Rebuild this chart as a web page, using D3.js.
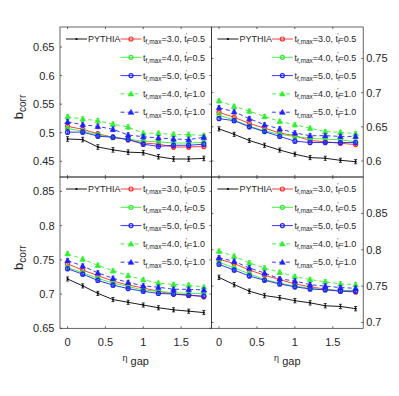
<!DOCTYPE html>
<html><head><meta charset="utf-8">
<script src="https://cdn.jsdelivr.net/npm/d3@7"></script>
<style>body{margin:0;background:#fff}svg{display:block;font-family:"Liberation Sans",Arial,sans-serif}</style>
</head><body><svg id="c" width="399" height="396"></svg>
<script>
// ---- data ----
const etaGap=[0,0.2,0.4,0.6,0.8,1.0,1.2,1.4,1.6,1.8];
const xTickVals=[0,0.5,1,1.5];
const xTickLabels=["0","0.5","1","1.5"];
const tfMax=["3.0","4.0","5.0","4.0","5.0"];
const tfPrime=["0.5","0.5","0.5","1.0","1.0"];

const tlPythia=[0.489,0.488,0.475,0.470,0.466,0.465,0.458,0.454,0.454,0.455];
const tlR30=[0.511,0.506,0.498,0.492,0.488,0.482,0.480,0.475,0.475,0.476];
const tlG40=[0.507,0.503,0.496,0.492,0.489,0.485,0.484,0.482,0.482,0.483];
const tlB50=[0.501,0.501,0.494,0.492,0.488,0.480,0.476,0.478,0.478,0.480];
const tlG40w=[0.528,0.524,0.521,0.515,0.510,0.499,0.499,0.497,0.497,0.495];
const tlB50w=[0.519,0.514,0.511,0.506,0.496,0.493,0.491,0.489,0.488,0.492];

const trPythia=[0.647,0.639,0.630,0.623,0.616,0.610,0.605,0.604,0.601,0.599];
const trR30=[0.671,0.664,0.655,0.648,0.641,0.637,0.630,0.628,0.626,0.624];
const trG40=[0.667,0.660,0.651,0.644,0.639,0.636,0.633,0.632,0.631,0.628];
const trB50=[0.662,0.659,0.650,0.643,0.636,0.629,0.627,0.627,0.627,0.627];
const trG40w=[0.688,0.680,0.673,0.665,0.658,0.653,0.648,0.643,0.642,0.640];
const trB50w=[0.678,0.672,0.662,0.653,0.647,0.641,0.637,0.637,0.636,0.636];

const blPythia=[0.722,0.712,0.701,0.692,0.688,0.684,0.680,0.677,0.675,0.673];
const blR30=[0.744,0.735,0.727,0.719,0.713,0.709,0.704,0.700,0.699,0.696];
const blG40=[0.739,0.731,0.723,0.716,0.711,0.706,0.704,0.702,0.701,0.701];
const blB50=[0.737,0.729,0.720,0.713,0.708,0.704,0.701,0.700,0.698,0.697];
const blG40w=[0.759,0.751,0.742,0.734,0.727,0.721,0.716,0.714,0.713,0.710];
const blB50w=[0.749,0.741,0.731,0.723,0.717,0.712,0.710,0.707,0.707,0.706];

const brPythia=[0.762,0.752,0.743,0.737,0.734,0.730,0.727,0.723,0.722,0.719];
const brR30=[0.787,0.781,0.772,0.765,0.759,0.753,0.749,0.746,0.743,0.742];
const brG40=[0.783,0.775,0.767,0.759,0.754,0.750,0.747,0.745,0.744,0.744];
const brB50=[0.780,0.772,0.764,0.758,0.753,0.749,0.746,0.745,0.743,0.743];
const brG40w=[0.798,0.791,0.782,0.775,0.769,0.763,0.759,0.756,0.753,0.752];
const brB50w=[0.789,0.784,0.775,0.768,0.760,0.757,0.752,0.750,0.748,0.747];

const panelErr=[0.004,0.003,0.003,0.003];
const tlYTicks=[0.45,0.5,0.55,0.6,0.65];
const trYTicks=[0.6,0.65,0.7,0.75];
const blYTicks=[0.65,0.7,0.75,0.8,0.85];
const brYTicks=[0.7,0.75,0.8,0.85];
const tlYDomain=[0.4225,0.685], trYDomain=[0.5766,0.796], blYDomain=[0.65,0.871], brYDomain=[0.692,0.900];
const xDomain=[-0.1,1.9];

// ---- styles ----
const colors=["#000000","#ff2a2a","#33ee33","#2020ff","#33ee33","#2020ff"];
const dashes=[null,null,null,null,"4,3","4,3"];
const markers=["dot","circle","circle","circle","tri","tri"];
const axisColor="#262626";

const svg=d3.select("#c");
const panels=[
  {x:[60,211.4],y:[27,177],dom:tlYDomain,ticks:tlYTicks,side:"left",xl:false,ser:[tlPythia,tlR30,tlG40,tlB50,tlG40w,tlB50w],err:panelErr[0]},
  {x:[211.4,363.2],y:[27,177],dom:trYDomain,ticks:trYTicks,side:"right",xl:false,ser:[trPythia,trR30,trG40,trB50,trG40w,trB50w],err:panelErr[1]},
  {x:[60,211.4],y:[177,328.3],dom:blYDomain,ticks:blYTicks,side:"left",xl:true,ser:[blPythia,blR30,blG40,blB50,blG40w,blB50w],err:panelErr[2]},
  {x:[211.4,363.2],y:[177,328.3],dom:brYDomain,ticks:brYTicks,side:"right",xl:true,ser:[brPythia,brR30,brG40,brB50,brG40w,brB50w],err:panelErr[3]}
];

function drawMarker(g,type,cx,cy,col){
  if(type==="dot") g.append("circle").attr("cx",cx).attr("cy",cy).attr("r",1.1).attr("fill",col);
  else if(type==="circle") g.append("circle").attr("cx",cx).attr("cy",cy).attr("r",2).attr("fill","none").attr("stroke",col).attr("stroke-width",1.2);
  else { const s=2.8; g.append("path").attr("d",`M${cx},${cy-s}L${cx+s},${cy+s*0.75}L${cx-s},${cy+s*0.75}Z`).attr("fill",col).attr("stroke",col).attr("stroke-width",0.6);}
}

panels.forEach(p=>{
  const xs=d3.scaleLinear().domain(xDomain).range(p.x);
  const ys=d3.scaleLinear().domain(p.dom).range([p.y[1],p.y[0]]);
  const g=svg.append("g");
  p.ser.forEach((vals,si)=>{
    const line=d3.line().x((d,i)=>xs(etaGap[i])).y(d=>ys(d));
    g.append("path").datum(vals).attr("d",line).attr("fill","none").attr("stroke",colors[si]).attr("stroke-width",0.9)
      .attr("stroke-dasharray",dashes[si]);
    vals.forEach((v,i)=>{
      const cx=xs(etaGap[i]);
      g.append("line").attr("x1",cx).attr("x2",cx).attr("y1",ys(v-p.err)).attr("y2",ys(v+p.err)).attr("stroke",colors[si]).attr("stroke-width",0.8);
      [v-p.err,v+p.err].forEach(e=>g.append("line").attr("x1",cx-1.5).attr("x2",cx+1.5).attr("y1",ys(e)).attr("y2",ys(e)).attr("stroke",colors[si]).attr("stroke-width",0.8));
      drawMarker(g,markers[si],cx,ys(v),colors[si]);
    });
  });
  g.append("rect").attr("x",p.x[0]).attr("y",p.y[0]).attr("width",p.x[1]-p.x[0]).attr("height",p.y[1]-p.y[0])
    .attr("fill","none").attr("stroke",axisColor).attr("stroke-width",0.7);
  p.ticks.forEach(t=>{
    const y=ys(t);
    g.append("line").attr("x1",p.x[0]).attr("x2",p.x[0]+2).attr("y1",y).attr("y2",y).attr("stroke",axisColor).attr("stroke-width",0.7);
    g.append("line").attr("x1",p.x[1]).attr("x2",p.x[1]-2).attr("y1",y).attr("y2",y).attr("stroke",axisColor).attr("stroke-width",0.7);
    const tx=p.side==="left"?p.x[0]-5.5:p.x[1]+3;
    g.append("text").attr("x",tx).attr("y",y+4).attr("text-anchor",p.side==="left"?"end":"start")
      .attr("font-size",11).attr("fill",axisColor).text(String(t));
  });
  xTickVals.forEach((t,i)=>{
    const x=xs(t);
    g.append("line").attr("x1",x).attr("x2",x).attr("y1",p.y[1]).attr("y2",p.y[1]-2).attr("stroke",axisColor).attr("stroke-width",0.7);
    g.append("line").attr("x1",x).attr("x2",x).attr("y1",p.y[0]).attr("y2",p.y[0]+2).attr("stroke",axisColor).attr("stroke-width",0.7);
    if(p.xl) g.append("text").attr("x",x).attr("y",p.y[1]+18).attr("text-anchor","middle").attr("font-size",11).attr("fill",axisColor).text(xTickLabels[i]);
  });
  const midX=(p.x[0]+p.x[1])/2, midY=(p.y[0]+p.y[1])/2;
  if(p.side==="left"){
    const t=g.append("text").attr("transform",`translate(23,${midY+5}) rotate(-90)`).attr("text-anchor","middle").attr("fill",axisColor);
    t.append("tspan").attr("font-size",13).text("b");
    t.append("tspan").attr("font-size",10).attr("dy",3).text("corr");
  }
  if(p.xl){
    const t=g.append("text").attr("x",midX).attr("y",p.y[1]+36).attr("text-anchor","middle").attr("fill",axisColor);
    t.append("tspan").attr("font-size",9).attr("dy",-3).text("η");
    t.append("tspan").attr("font-size",11).attr("dy",4).text(" gap");
  }
  const rows=[12,30.3,48.6,66.9,85.2];
  const lg=g.append("g");
  const fs=9, sfs=6.5;
  {
    const y=p.y[0]+rows[0];
    lg.append("line").attr("x1",p.x[0]+6).attr("x2",p.x[0]+27).attr("y1",y).attr("y2",y).attr("stroke",colors[0]).attr("stroke-width",0.9);
    drawMarker(lg,"dot",p.x[0]+16.5,y,colors[0]);
    lg.append("text").attr("x",p.x[0]+28).attr("y",y+3.2).attr("font-size",fs).attr("fill",axisColor).text("PYTHIA");
  }
  tfMax.forEach((m,k)=>{
    const si=k+1, y=p.y[0]+rows[k];
    const lx=p.x[0]+60.5;
    lg.append("line").attr("x1",lx).attr("x2",lx+21).attr("y1",y).attr("y2",y).attr("stroke",colors[si]).attr("stroke-width",0.9).attr("stroke-dasharray",dashes[si]);
    drawMarker(lg,markers[si],lx+10.5,y,colors[si]);
    const t=lg.append("text").attr("x",lx+22.5).attr("y",y+3.2).attr("font-size",fs).attr("fill",axisColor);
    t.append("tspan").text("t");
    t.append("tspan").attr("font-size",sfs).attr("dy",2.2).text("f,max");
    t.append("tspan").attr("dy",-2.2).text("="+m+", t");
    t.append("tspan").attr("font-size",sfs).attr("dy",2.2).text("f");
    t.append("tspan").attr("font-size",sfs).attr("dx",-2.6).attr("dy",-6).text("'");
    t.append("tspan").attr("dy",3.8).text("="+tfPrime[k]);
  });
});
</script></body></html>
